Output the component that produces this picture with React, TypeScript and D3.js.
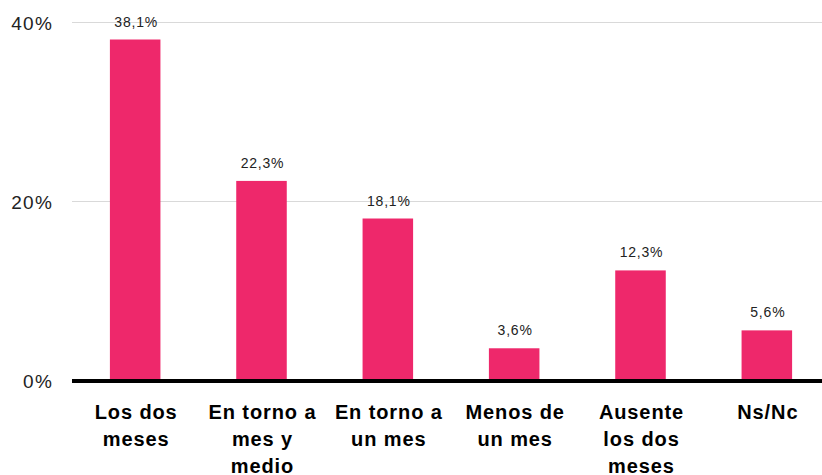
import React from "react";
import * as d3 from "d3";

const categories: string[][] = [
  ["Los dos", "meses"],
  ["En torno a", "mes y", "medio"],
  ["En torno a", "un mes"],
  ["Menos de", "un mes"],
  ["Ausente", "los dos", "meses"],
  ["Ns/Nc"],
];
const values: number[] = [38.1, 22.3, 18.1, 3.6, 12.3, 5.6];
const valueLabels: string[] = ["38,1%", "22,3%", "18,1%", "3,6%", "12,3%", "5,6%"];
const yTicks: number[] = [0, 20, 40];

const W = 822;
const H = 475;
const FONT = "'Liberation Sans', Arial, Helvetica, sans-serif";
const PINK = "#EE286B";

export default function App() {
  const ids = categories.map((_, i) => String(i));
  const x = d3.scaleBand<string>().domain(ids).range([72, 830]).paddingInner(0.6).paddingOuter(0.3);
  const y = d3.scaleLinear().domain([0, 40]).range([380.5, 22.5]);

  return (
    <svg width={W} height={H} style={{ position: "absolute", left: 0, top: 0, background: "#fff" }}>
      {yTicks.filter((t) => t > 0).map((t) => (
        <line key={"g" + t} x1={72} x2={W} y1={y(t)} y2={y(t)} stroke="#d9d9d9" strokeWidth={1} />
      ))}
      {yTicks.map((t) => (
        <text key={"t" + t} x={53} y={y(t) + 7} textAnchor="end" fontFamily={FONT} fontSize={19}
          letterSpacing={1.2} fill="#222">{t}%</text>
      ))}
      {values.map((v, i) => (
        <rect key={"b" + i} x={x(ids[i])} y={y(v)} width={x.bandwidth()} height={y(0) - y(v)} fill={PINK} />
      ))}
      {values.map((v, i) => (
        <text key={"v" + i} x={(x(ids[i]) as number) + x.bandwidth() / 2 + 1} y={y(v) - 13} textAnchor="middle"
          fontFamily={FONT} fontSize={14} letterSpacing={0.8} fill="#222">{valueLabels[i]}</text>
      ))}
      <line x1={72} x2={W} y1={y(0) + 0.5} y2={y(0) + 0.5} stroke="#000" strokeWidth={4} />
      {categories.map((lines, i) => (
        <text key={"c" + i} textAnchor="middle" fontFamily={FONT} fontSize={20} fontWeight="bold"
          letterSpacing={0.9} fill="#000">
          {lines.map((l, j) => (
            <tspan key={j} x={(x(ids[i]) as number) + x.bandwidth() / 2 + 1} y={y(0) + 38.5 + j * 27}>{l}</tspan>
          ))}
        </text>
      ))}
    </svg>
  );
}
